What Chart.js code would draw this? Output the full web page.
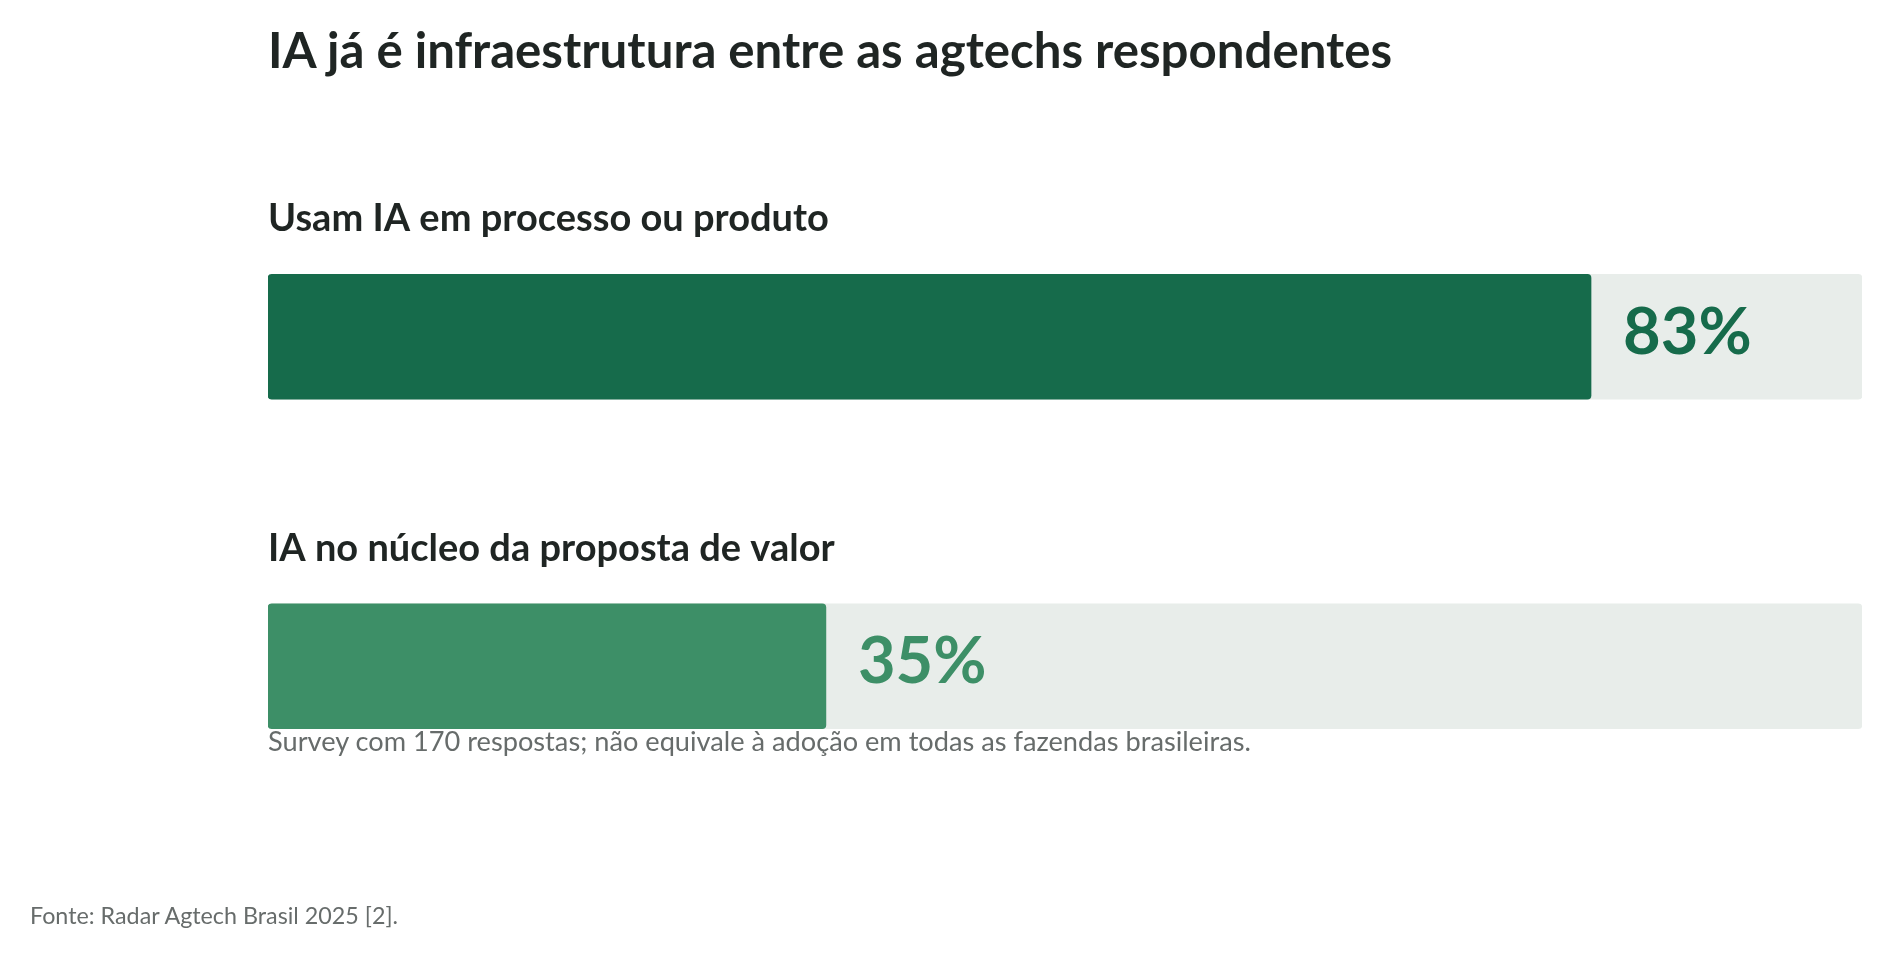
<!DOCTYPE html>
<html lang="pt-BR">
<head>
<meta charset="utf-8">
<title>IA já é infraestrutura entre as agtechs respondentes</title>
<script src="https://cdn.jsdelivr.net/npm/chart.js@4.4.1/dist/chart.umd.min.js"></script>
<style>
  html, body { margin: 0; padding: 0; background: #ffffff; }
  body { width: 1891px; height: 959px; position: relative; overflow: hidden; font-family: Lato, "Noto Sans", sans-serif; }
  #wrap { position: absolute; left: 0; top: 0; width: 1891px; height: 959px; }
  #adoptionChart { display: block; }
  .txt { position: absolute; margin: 0; line-height: 1; white-space: nowrap; }
  #title { left: 268px; top: 24px; font-size: 49.2px; font-weight: 700; color: #1f2523; }
  #note { left: 268px; top: 727px; font-size: 27.2px; color: #676c6b; }
  #source { left: 30px; top: 904px; font-size: 23.3px; color: #676c6b; }
</style>
</head>
<body>
<div id="wrap"><canvas id="adoptionChart" width="1891" height="959"></canvas></div>
<h1 class="txt" id="title">IA já é infraestrutura entre as agtechs respondentes</h1>
<p class="txt" id="note">Survey com 170 respostas; não equivale à adoção em todas as fazendas brasileiras.</p>
<p class="txt" id="source">Fonte: Radar Agtech Brasil 2025 [2].</p>
<script>
// Categories and values
const categories = ["Usam IA em processo ou produto", "IA no núcleo da proposta de valor"];
const shareValues = [83, 35];          // % of respondents
const trackValues = [100, 100];        // full-width background track
const barColors = ["#166b4b", "#3d8f67"];

// Draws the category label above each bar and the % value after each bar
const barLabels = {
    id: 'barLabels',
    afterDatasetsDraw(chart) {
        const ctx = chart.ctx;
        const meta = chart.getDatasetMeta(1);
        ctx.save();
        meta.data.forEach((bar, i) => {
            const top = bar.y - bar.height / 2;

            // category label
            ctx.font = "700 38px Lato, 'Noto Sans', sans-serif";
            ctx.fillStyle = "#1f2523";
            ctx.textAlign = "left";
            ctx.textBaseline = "alphabetic";
            ctx.fillText(categories[i], chart.chartArea.left, top - 43);

            // value label
            ctx.font = "700 65px Lato, 'Noto Sans', sans-serif";
            ctx.fillStyle = barColors[i];
            ctx.textBaseline = "middle";
            ctx.fillText(shareValues[i] + "%", bar.x + 32, bar.y - 4);
        });
        ctx.restore();
    }
};

const ctx = document.getElementById('adoptionChart').getContext('2d');
const adoptionChart = new Chart(ctx, {
    type: 'bar',
    data: {
        labels: categories,
        datasets: [
            {
                label: "Total",
                data: trackValues,
                backgroundColor: "#e8edea",
                borderRadius: 4,
                borderSkipped: false,
                grouped: false,
                barThickness: 125,
                order: 2
            },
            {
                label: "Respondentes",
                data: shareValues,
                backgroundColor: barColors,
                borderRadius: 4,
                borderSkipped: false,
                grouped: false,
                barThickness: 125,
                order: 1
            }
        ]
    },
    options: {
        indexAxis: 'y',
        responsive: false,
        maintainAspectRatio: false,
        animation: false,
        devicePixelRatio: 1,
        layout: {
            padding: { left: 268, right: 29, top: 172, bottom: 128 }
        },
        plugins: {
            legend: { display: false },
            tooltip: { enabled: false }
        },
        scales: {
            x: { display: false, min: 0, max: 100 },
            y: { display: false }
        }
    },
    plugins: [barLabels]
});
</script>
</body>
</html>
